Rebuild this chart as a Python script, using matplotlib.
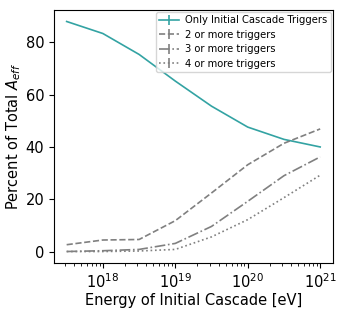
import matplotlib
matplotlib.use("Agg")
import matplotlib.pyplot as plt
import numpy as np

# energies of initial cascade (eV)
energy = [10**17.5, 1e18, 10**18.5, 1e19, 10**19.5, 1e20, 10**20.5, 1e21]

# percent of total A_eff
only_initial = [88.0, 83.4, 75.4, 65.2, 55.6, 47.6, 42.9, 40.0]
two_plus = [2.6, 4.4, 4.6, 11.8, 22.4, 33.2, 41.4, 46.9]
three_plus = [0.0, 0.3, 0.8, 3.1, 9.6, 19.2, 29.0, 36.2]
four_plus = [0.0, 0.0, 0.2, 0.8, 5.6, 12.2, 20.6, 29.2]
err = [0.0] * len(energy)

TEAL = "#33a3a3"
GRAY = "#808080"

fig = plt.figure(figsize=(3.46, 3.12), dpi=100)
ax = fig.add_axes([0.156, 0.157, 0.806, 0.811])

ax.errorbar(energy, only_initial, yerr=err, color=TEAL, lw=1.2,
            label="Only Initial Cascade Triggers")
ax.errorbar(energy, two_plus, yerr=err, color=GRAY, ls="--", lw=1.2,
            label="2 or more triggers")
ax.errorbar(energy, three_plus, yerr=err, color=GRAY, ls="-.", lw=1.2,
            label="3 or more triggers")
ax.errorbar(energy, four_plus, yerr=err, color=GRAY, ls=":", lw=1.2,
            label="4 or more triggers")

ax.set_xscale("log")
ax.set_yticks([0, 20, 40, 60, 80])
ax.tick_params(labelsize=10.5)
ax.set_xlabel("Energy of Initial Cascade [eV]", fontsize=10.5, labelpad=1)
ax.set_ylabel(r"Percent of Total $A_{eff}$", fontsize=10.5, labelpad=2)
ax.legend(loc="upper right", fontsize=7.2, handlelength=2.0,
          borderaxespad=0.2, labelspacing=0.45, handletextpad=0.6,
          borderpad=0.35)

fig.savefig("out.png", dpi=100)
